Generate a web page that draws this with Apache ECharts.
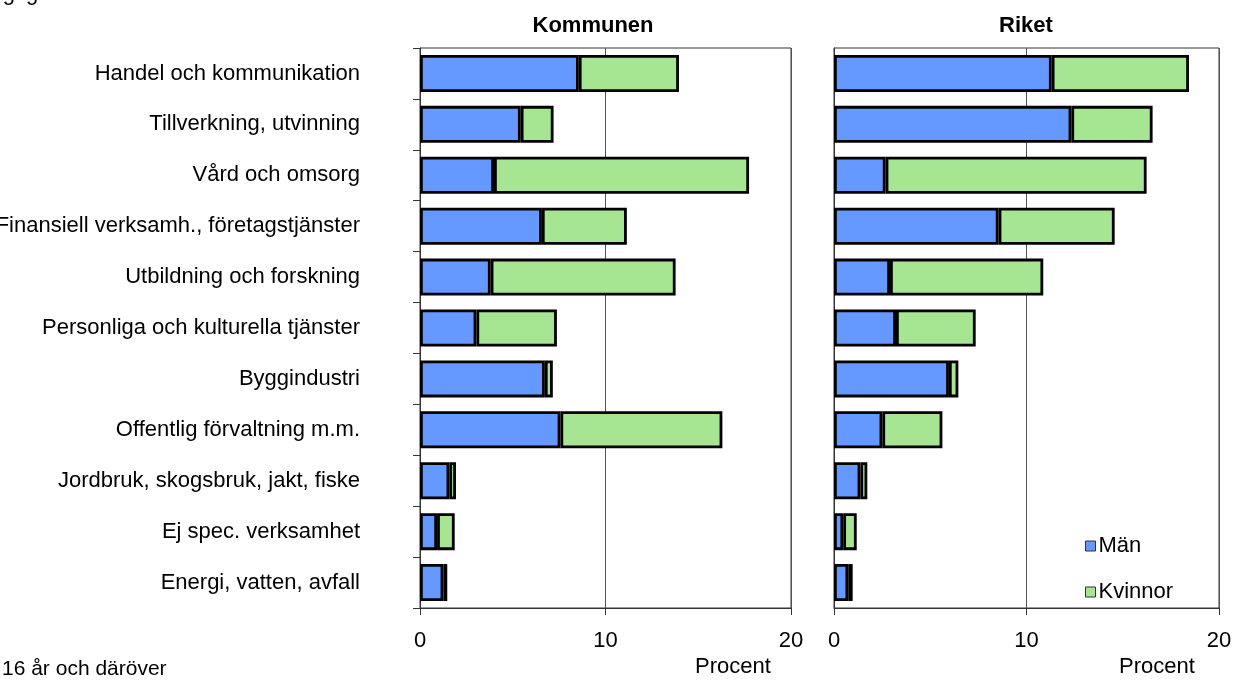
<!DOCTYPE html>
<html>
<head>
<meta charset="utf-8">
<script src="https://cdn.jsdelivr.net/npm/echarts@6/dist/echarts.min.js"></script>
<style>
html,body{margin:0;padding:0;background:#fff;}
#chart{width:1233px;height:682px;}
</style>
</head>
<body>
<div id="chart"></div>
<script>
var categories = [
  'Handel och kommunikation',
  'Tillverkning, utvinning',
  'Vård och omsorg',
  'Finansiell verksamh., företagstjänster',
  'Utbildning och forskning',
  'Personliga och kulturella tjänster',
  'Byggindustri',
  'Offentlig förvaltning m.m.',
  'Jordbruk, skogsbruk, jakt, fiske',
  'Ej spec. verksamhet',
  'Energi, vatten, avfall'
];
var kommunMan      = [8.56, 5.43, 3.99, 6.57, 3.81, 3.04, 6.73, 7.57, 1.58, 0.92, 1.26];
var kommunKvinnor  = [5.40, 1.77, 13.75, 4.58, 9.97, 4.34, 0.43, 8.73, 0.36, 0.95, 0.21];
var riketMan       = [11.31, 12.33, 2.68, 8.55, 2.91, 3.22, 5.97, 2.51, 1.37, 0.48, 0.74];
var riketKvinnor   = [7.13, 4.22, 13.56, 6.03, 7.96, 4.14, 0.49, 3.12, 0.36, 0.70, 0.23];
var xTicks = [0, 10, 20];
var seriesNames = ['Män', 'Kvinnor'];
var panelTitles = ['Kommunen', 'Riket'];

var FONT = 'Liberation Sans, Arial, sans-serif';
var FS = 22;
var BLUE = '#6699FF';
var GREEN = '#A6E591';
var LINE = '#333333';

var chart = echarts.init(document.getElementById('chart'), null, {renderer: 'canvas'});

function xAxisFor(idx) {
  return {
    type: 'value', gridIndex: idx, min: xTicks[0], max: xTicks[xTicks.length - 1], interval: 10,
    axisLine: {show: true, lineStyle: {color: LINE, width: 1}},
    axisTick: {show: true, length: 7, lineStyle: {color: LINE}},
    axisLabel: {color: '#000', fontSize: FS, fontFamily: FONT, margin: 22},
    splitLine: {show: true, lineStyle: {color: '#555', width: 1}}
  };
}
function yAxisFor(idx, showLabels) {
  return {
    type: 'category', gridIndex: idx, data: categories, inverse: true,
    axisLine: {show: true, lineStyle: {color: LINE, width: 1}},
    axisTick: {show: showLabels, length: 7, lineStyle: {color: LINE}},
    axisLabel: {show: showLabels, color: '#000', fontSize: FS, fontFamily: FONT, margin: 60},
    splitLine: {show: false}
  };
}
function barSeries(name, data, idx, color) {
  return {
    name: name, type: 'bar', stack: 'p' + idx, xAxisIndex: idx, yAxisIndex: idx,
    data: data, barWidth: 37,
    itemStyle: {color: color, borderColor: '#000', borderWidth: 2.8},
    emphasis: {disabled: true}
  };
}

chart.setOption({
  animation: false,
  backgroundColor: '#fff',
  textStyle: {fontFamily: FONT},
  grid: [
    {left: 420, right: 442, top: 48, bottom: 74, show: true, borderColor: LINE, borderWidth: 1, containLabel: false, outerBoundsMode: 'none'},
    {left: 834, right: 14, top: 48, bottom: 74, show: true, borderColor: LINE, borderWidth: 1, containLabel: false, outerBoundsMode: 'none'}
  ],
  xAxis: [xAxisFor(0), xAxisFor(1)],
  yAxis: [yAxisFor(0, true), yAxisFor(1, false)],
  legend: {
    data: seriesNames, orient: 'vertical', left: 1080, top: 530, itemGap: 24,
    itemWidth: 10, itemHeight: 10, icon: 'rect',
    itemStyle: {borderColor: '#333', borderWidth: 1},
    textStyle: {color: '#000', fontSize: FS, fontFamily: FONT, padding: [0, 0, 0, -2]}
  },
  series: [
    barSeries(seriesNames[0], kommunMan, 0, BLUE),
    barSeries(seriesNames[1], kommunKvinnor, 0, GREEN),
    barSeries(seriesNames[0], riketMan, 1, BLUE),
    barSeries(seriesNames[1], riketKvinnor, 1, GREEN)
  ],
  graphic: [
    {type: 'text', x: 593, y: 26, style: {text: panelTitles[0], font: 'bold ' + FS + 'px ' + FONT, fill: '#000', align: 'center', verticalAlign: 'middle'}},
    {type: 'text', x: 1026, y: 26, style: {text: panelTitles[1], font: 'bold ' + FS + 'px ' + FONT, fill: '#000', align: 'center', verticalAlign: 'middle'}},
    {type: 'text', x: 733, y: 667, style: {text: 'Procent', font: FS + 'px ' + FONT, fill: '#000', align: 'center', verticalAlign: 'middle'}},
    {type: 'text', x: 1157, y: 667, style: {text: 'Procent', font: FS + 'px ' + FONT, fill: '#000', align: 'center', verticalAlign: 'middle'}},
    {type: 'text', x: 2, y: 669, style: {text: '16 år och däröver', font: '21px ' + FONT, fill: '#000', align: 'left', verticalAlign: 'middle'}},
    {type: 'text', x: 70, y: -6, style: {text: 'Förvärvsarbetande efter näringsgren', font: FS + 'px ' + FONT, fill: '#000', align: 'right', verticalAlign: 'middle'}}
  ]
});
</script>
</body>
</html>
